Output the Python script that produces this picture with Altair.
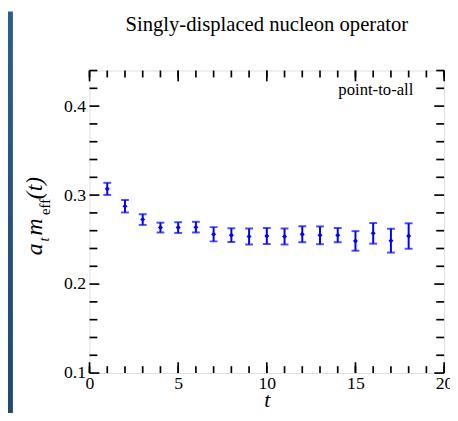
import altair as alt
import pandas as pd

# ---- data ----
t = list(range(1, 19))
meff = [0.307, 0.2875, 0.2725, 0.2635, 0.2635, 0.264, 0.256, 0.255, 0.2535,
        0.254, 0.2535, 0.256, 0.2548, 0.255, 0.2485, 0.257, 0.2488, 0.254]
err = [0.0068, 0.007, 0.006, 0.0055, 0.006, 0.006, 0.008, 0.0077, 0.009,
       0.009, 0.009, 0.009, 0.010, 0.008, 0.011, 0.0116, 0.0134, 0.0143]

x_major = [0, 5, 10, 15, 20]
x_minor = list(range(0, 21))
y_major = [0.1, 0.2, 0.3, 0.4]
y_minor = [0.12, 0.14, 0.16, 0.18, 0.22, 0.24, 0.26, 0.28,
           0.32, 0.34, 0.36, 0.38, 0.42, 0.44]

title_text = "Singly-displaced nucleon operator"
legend_text = "point-to-all"

W, H = 361, 308
SERIF = "'Liberation Serif', 'Times New Roman', Times, serif"
BLUE = "#0000ff"

df = pd.DataFrame({"t": t, "m": meff, "e": err})
df["lo"] = df["m"] - df["e"]
df["hi"] = df["m"] + df["e"]

xs = alt.Scale(domain=[0, 20], nice=False, zero=False)
ys = alt.Scale(domain=[0.1, 0.44], nice=False, zero=False)

base = alt.Chart(df)

points = base.mark_point(color=BLUE, filled=True, shape="diamond", size=26, opacity=1).encode(
    x=alt.X("t:Q", scale=xs,
            axis=alt.Axis(values=x_major, ticks=False, domain=False, grid=False,
                          labelFont=SERIF, labelFontSize=18, labelColor="black",
                          labelPadding=2, labelFlush=False, labelOverlap=False,
                          format="d",
                          title="t", titleFont=SERIF, titleFontSize=22,
                          titleFontStyle="italic", titleFontWeight="normal",
                          titleColor="black", titlePadding=-3)),
    y=alt.Y("m:Q", scale=ys,
            axis=alt.Axis(values=y_major, ticks=False, domain=False, grid=False,
                          labelFont=SERIF, labelFontSize=18, labelColor="black",
                          labelPadding=4, labelFlush=False, labelOverlap=False,
                          format=".1f", title=None)),
)
bars = base.mark_rule(color=BLUE, strokeWidth=2).encode(
    x=alt.X("t:Q", scale=xs),
    y=alt.Y("lo:Q", scale=ys),
    y2="hi:Q",
)
cap_lo = base.mark_tick(color=BLUE, orient="horizontal", size=8, thickness=2).encode(
    x=alt.X("t:Q", scale=xs),
    y=alt.Y("lo:Q", scale=ys),
)
cap_hi = base.mark_tick(color=BLUE, orient="horizontal", size=8, thickness=2).encode(
    x=alt.X("t:Q", scale=xs),
    y=alt.Y("hi:Q", scale=ys),
)

def xticks(vals, length, top):
    d = pd.DataFrame({"v": vals})
    y0 = 0 if top else H
    y1 = length if top else H - length
    return alt.Chart(d).mark_rule(color="black", strokeWidth=1.7).encode(
        x=alt.X("v:Q", scale=xs), y=alt.value(y0), y2=alt.value(y1))

def yticks(vals, length, right):
    d = pd.DataFrame({"v": vals})
    x0 = W if right else 0
    x1 = W - length if right else length
    return alt.Chart(d).mark_rule(color="black", strokeWidth=1.7).encode(
        y=alt.Y("v:Q", scale=ys), x=alt.value(x0), x2=alt.value(x1))

tick_layers = [
    xticks(x_minor, 7, False), xticks(x_major, 11, False),
    xticks(x_minor, 7, True), xticks(x_major, 11, True),
    yticks(y_minor, 8, False), yticks(y_major, 10, False),
    yticks(y_minor, 8, True), yticks(y_major, 10, True),
]

def label(txt, x, y, size, italic=True, angle=0, align="left"):
    return alt.Chart(pd.DataFrame({"s": [txt]})).mark_text(
        font=SERIF, fontSize=size, fontStyle="italic" if italic else "normal",
        angle=angle, align=align, baseline="alphabetic", color="black",
    ).encode(text="s:N", x=alt.value(x), y=alt.value(y))

# y-axis title a_t m_eff(t), rotated
ytitle = [
    label("a", -48, 188, 24, angle=270),
    label("t", -41, 174, 14, angle=270),
    label("m", -48, 168, 24, angle=270),
    label("eff", -40, 147, 15, italic=False, angle=270),
    label("(t)", -48, 131, 24, angle=270),
]

legend = label(legend_text, 291.5, 25, 17, italic=False, align="center")
title = label(title_text, W / 2, -40, 21, italic=False, align="center")

# slide edge visible at the left of the reference picture
slide_edge = alt.Chart(pd.DataFrame({"s": [0]})).mark_rect(
    fill=alt.Gradient(gradient="linear", x1=0, y1=0, x2=0, y2=1,
                      stops=[alt.GradientStop(color="#2d5d8e", offset=0),
                             alt.GradientStop(color="#1f4873", offset=1)]),
).encode(x=alt.value(-83), x2=alt.value(-78), y=alt.value(-60), y2=alt.value(H + 60))

chart = alt.layer(
    points, slide_edge, *tick_layers, bars, cap_lo, cap_hi, legend, title, *ytitle
).properties(
    width=W, height=H,
    padding={"left": 83, "top": 60, "right": 6, "bottom": 37},
    autosize=alt.AutoSizeParams(type="none"),
).configure_view(stroke="black", strokeWidth=2.4).configure(background="white")

chart.save("out.html", embed_options={"renderer": "svg", "actions": False})
